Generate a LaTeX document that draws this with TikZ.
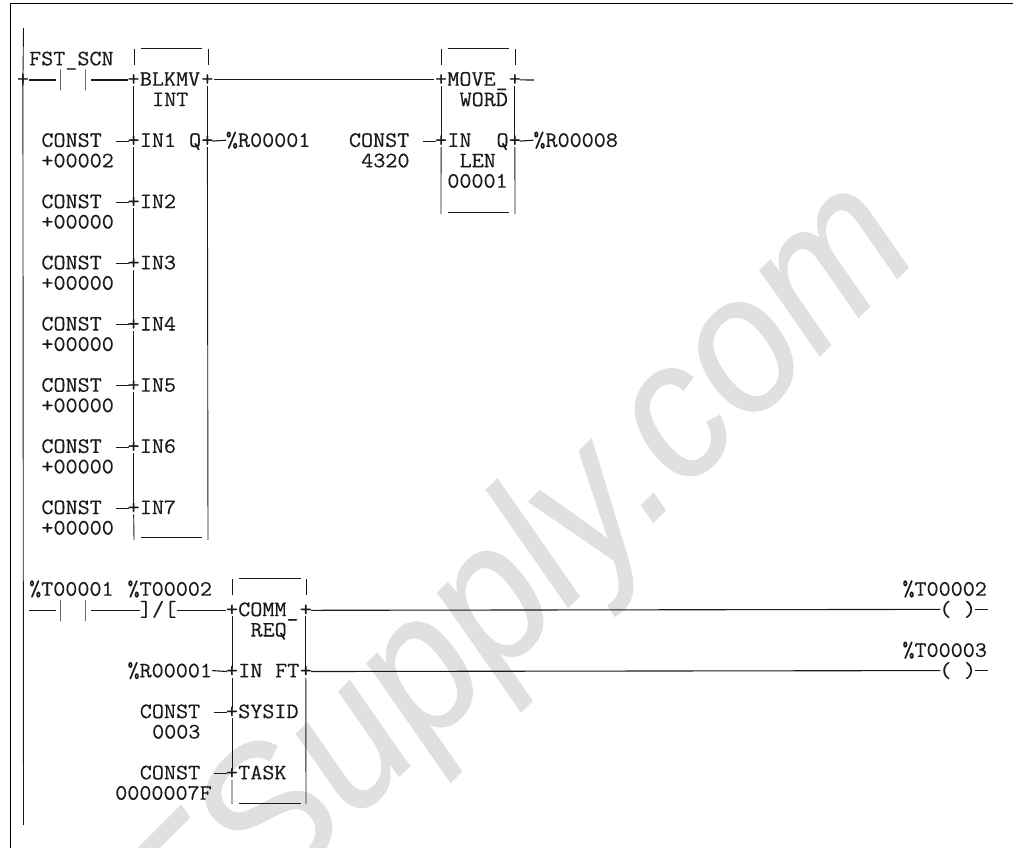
\documentclass[tikz,border=0pt]{standalone}
\usepackage{fontspec}
\newfontfamily\plc{Latin Modern Mono}[FakeStretch=1.065,FakeBold=0.35]
\newfontfamily\wmk{Liberation Sans}[ItalicFeatures={FakeStretch=0.92,FakeBold=0.5}]
\definecolor{ink}{HTML}{1A1A1A}
\definecolor{wm}{HTML}{E0E0E0}
\newcommand\TX[4]{\node[plctext] (#1) at ({23+12.3*(#2)-6.15},{65.3+20.4*(#3)}) {#4};}
\tikzset{
  x=1pt,y=-1pt,
  plctext/.style={anchor=base west,inner sep=0pt,outer sep=0pt,text=ink,font=\plc\fontsize{22}{24}\selectfont},
  wire/.style={draw=ink,line width=1.1pt},
  thinwire/.style={draw=ink,line width=0.9pt},
  frameline/.style={draw=black,line width=1.5pt},
  stub/.style={wire,shorten >=1pt,shorten <=1pt},
  boxside/.style={thinwire,shorten >=4pt,shorten <=3pt},
  bar/.style={draw=ink,line width=1pt,minimum width=0pt,minimum height=21pt,inner sep=0pt,outer sep=0pt}
}
\begin{document}
\begin{tikzpicture}
\useasboundingbox (0,0) rectangle (1013,848);
% watermark
\begin{scope}
\clip (0,0) rectangle (1013,848);
\node[rotate=45,anchor=base,text=wm,font=\wmk\itshape\fontsize{195}{205}\selectfont,inner sep=0pt] (mark) at (558,618) {FSupply.com};
\end{scope}
% frame
\coordinate (f0) at (10.5,848);
\coordinate (f1) at (10.5,3.5);
\coordinate (f2) at (1013,3.5);
\draw[frameline] (f0) -- (f1) -- (f2);
% left rail
\coordinate (railtop) at (23.5,28);
\coordinate (railbot) at (23.5,825);
\TX{railplus}{0}{1}{+}
\draw[thinwire] (railtop) -- ([yshift=-6pt]railplus.center);
\draw[thinwire] ([yshift=7pt]railplus.center) -- (railbot);
% rung 1 contact
\TX{fst}{1}{0}{FST\_SCN}
\node[bar] (c1a) at (60,80) {};
\node[bar] (c1b) at (85,80) {};
% BLKMV box
\TX{bin}{9}{1}{+}
\TX{bout}{15}{1}{+}
\TX{bname}{10}{1}{BLKMV}
\TX{btype}{11}{2}{INT}
\coordinate (r1s) at (29,80);
\draw[wire,shorten >=4pt] (r1s) -- (c1a);
\draw[wire,shorten <=6pt] (c1b) -- (bin.west |- c1b);
\coordinate (b1tl) at (141,48); \coordinate (b1tr) at (202,48);
\coordinate (b1bl) at (141,537); \coordinate (b1br) at (202,537);
\draw[thinwire] (b1tl) -- (b1tr);
\draw[thinwire] (b1bl) -- (b1br);
\coordinate (b1L) at (134,49); \coordinate (b1R) at (208,49);
\coordinate (b1Lb) at (134,540); \coordinate (b1Rb) at (208,540);
\draw[thinwire] (b1L) -- (134,65);
\draw[thinwire] (b1R) -- (208,65);
% BLKMV inputs
\TX{ci1}{2}{4}{CONST}\TX{vi1}{2}{5}{+00002}\TX{pi1}{9}{4}{+}\TX{ni1}{10}{4}{IN1}
\TX{bq}{14}{4}{Q}\TX{bqp}{15}{4}{+}\TX{bqr}{17}{4}{\%R00001}
\foreach \i/\r in {2/7,3/10,4/13,5/16,6/19,7/22}{
  \TX{ci\i}{2}{\r}{CONST}
  \TX{vi\i}{2}{\r+1}{+00000}
  \TX{pi\i}{9}{\r}{+}
  \TX{ni\i}{10}{\r}{IN\i}
}
\foreach \i in {1,...,7}{
  \draw[wire] ([xshift=-18pt]pi\i.center) coordinate (di\i) -- ([xshift=-5pt]pi\i.center);
}
\draw[boxside,shorten <=6pt] (bin.center) -- (pi1.center);
\foreach \a/\b in {1/2,2/3,3/4,4/5,5/6,6/7}{
  \draw[boxside,shorten <=6pt] (pi\a.center) -- (pi\b.center);
}
\draw[thinwire,shorten <=6pt] (pi7.center) -- (b1Lb);
\draw[boxside,shorten <=6pt] (bout.center) -- (bqp.center);
\draw[thinwire,shorten <=6pt] (bqp.center) -- (b1Rb);
\draw[wire] ([xshift=5pt]bqp.center) -- (bqr.west);
% MOVE box
\TX{min}{34}{1}{+}\TX{mname}{35}{1}{MOVE\_}\TX{mout}{40}{1}{+}
\TX{mtype}{36}{2}{WORD}
\TX{mc}{27}{4}{CONST}\TX{mv}{28}{5}{4320}
\TX{mip}{34}{4}{+}\TX{mi}{35}{4}{IN}\TX{mq}{39}{4}{Q}\TX{mqp}{40}{4}{+}\TX{mqr}{42}{4}{\%R00008}
\TX{mlen}{36}{5}{LEN}\TX{mlv}{35}{6}{00001}
\draw[stub] (bout.east) -- (min.west);
\coordinate (mend) at (534,80);
\draw[wire] ([xshift=5pt]mout.center) -- (mend);
\draw[wire] ([xshift=-18pt]mip.center) coordinate (md) -- ([xshift=-5pt]mip.center);
\draw[wire] ([xshift=5pt]mqp.center) -- (mqr.west);
\coordinate (m1) at (448,48); \coordinate (m2) at (509,48);
\coordinate (m3) at (448,212); \coordinate (m4) at (509,212);
\draw[thinwire] (m1) -- (m2);
\draw[thinwire] (m3) -- (m4);
\coordinate (mLt) at (441,49); \coordinate (mRt) at (515,49);
\coordinate (mLb) at (441,214); \coordinate (mRb) at (515,214);
\draw[thinwire] (mLt) -- (441,65);
\draw[thinwire] (mRt) -- (515,65);
\draw[boxside,shorten <=6pt] (min.center) -- (mip.center);
\draw[boxside,shorten <=6pt] (mout.center) -- (mqp.center);
\draw[thinwire,shorten <=6pt] (mip.center) -- (mLb);
\draw[thinwire,shorten <=6pt] (mqp.center) -- (mRb);
% rung 2
\TX{t1}{1}{26}{\%T00001}\TX{t2}{9}{26}{\%T00002}
\node[bar] (c2a) at (60,610.5) {};
\node[bar] (c2b) at (85,610.5) {};
\coordinate (r2s) at (29,610.5);
\draw[wire,shorten >=4pt] (r2s) -- (c2a);
\TX{nc1}{10}{27}{]}\TX{nc2}{11}{27}{/}\TX{nc3}{12}{27}{[}
\TX{cin}{17}{27}{+}\TX{cname}{18}{27}{COMM\_}\TX{cout}{23}{27}{+}
\TX{ctype}{19}{28}{REQ}
\draw[wire,shorten <=6pt] (c2b) -- (nc1.west |- c2b);
\draw[wire] (nc3.east |- c2b) -- (cin.west |- c2b);
% COMM_REQ params
\TX{cr}{9}{30}{\%R00001}\TX{cip}{17}{30}{+}\TX{ci}{18}{30}{IN}\TX{cf}{21}{30}{FT}\TX{cfp}{23}{30}{+}
\TX{sc}{10}{32}{CONST}\TX{sp}{17}{32}{+}\TX{si}{18}{32}{SYSID}\TX{sv}{11}{33}{0003}
\TX{tc}{10}{35}{CONST}\TX{tp}{17}{35}{+}\TX{ti}{18}{35}{TASK}\TX{tv}{8}{36}{0000007F}
\draw[wire] (cr.east) -- ([xshift=-5pt]cip.center);
\draw[wire] ([xshift=-18pt]sp.center) coordinate (sd) -- ([xshift=-5pt]sp.center);
\draw[wire] ([xshift=-18pt]tp.center) coordinate (td) -- ([xshift=-5pt]tp.center);
\coordinate (c1) at (239,578); \coordinate (c2) at (301,578);
\coordinate (c3) at (239,803); \coordinate (c4) at (301,803);
\draw[thinwire] (c1) -- (c2);
\draw[thinwire] (c3) -- (c4);
\coordinate (cLt) at (232,579); \coordinate (cRt) at (306,579);
\coordinate (cLb) at (232,804); \coordinate (cRb) at (306,804);
\draw[thinwire] (cLt) -- (232,595);
\draw[thinwire] (cRt) -- (306,595);
\draw[boxside,shorten <=6pt] (cin.center) -- (cip.center);
\draw[boxside,shorten <=6pt] (cip.center) -- (sp.center);
\draw[boxside,shorten <=6pt] (sp.center) -- (tp.center);
\draw[thinwire,shorten <=6pt] (tp.center) -- (cLb);
\draw[boxside,shorten <=6pt] (cout.center) -- (cfp.center);
\draw[thinwire,shorten <=6pt] (cfp.center) -- (cRb);
% coils
\TX{o2}{72}{26}{\%T00002}\TX{o3}{72}{29}{\%T00003}
\TX{c2o}{75}{27}{(}\TX{c2c}{77}{27}{)}
\TX{c3o}{75}{30}{(}\TX{c3c}{77}{30}{)}
\draw[wire] ([xshift=5pt]cout.center) -- ([xshift=-5pt]c2o.center);
\draw[wire] ([xshift=5pt]cfp.center) -- ([xshift=-5pt]c3o.center);
\draw[wire] ([xshift=5pt]c2c.center) -- ([xshift=18pt]c2c.center) coordinate (e2);
\draw[wire] ([xshift=5pt]c3c.center) -- ([xshift=18pt]c3c.center) coordinate (e3);
\end{tikzpicture}
\end{document}
